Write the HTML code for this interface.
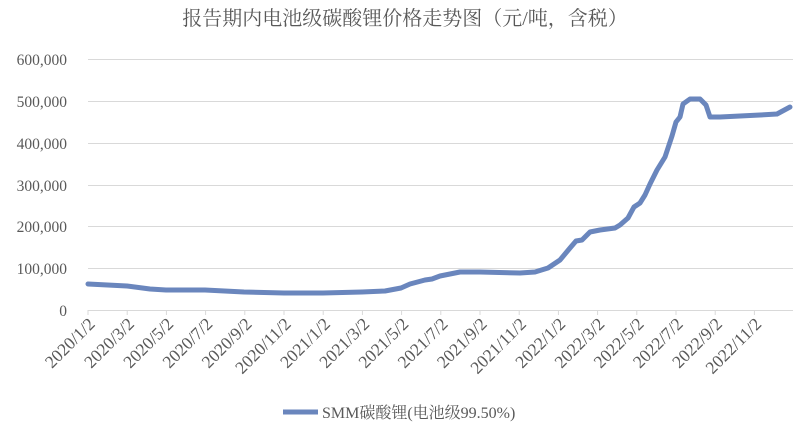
<!DOCTYPE html>
<html><head><meta charset="utf-8"><style>
body{margin:0;background:#fff;}
svg text{font-family:"Liberation Serif","Noto Serif CJK SC",serif;fill:#595959;}
</style></head><body>
<svg width="798" height="433" xmlns="http://www.w3.org/2000/svg">
<text x="405" y="25" font-size="20" text-anchor="middle">报告期内电池级碳酸锂价格走势图（元/吨，含税）</text>
<g stroke="#d9d9d9" stroke-width="1">
<line x1="88" x2="793" y1="59.5" y2="59.5"/>
<line x1="88" x2="793" y1="101.5" y2="101.5"/>
<line x1="88" x2="793" y1="143.5" y2="143.5"/>
<line x1="88" x2="793" y1="185.5" y2="185.5"/>
<line x1="88" x2="793" y1="226.5" y2="226.5"/>
<line x1="88" x2="793" y1="268.5" y2="268.5"/>
<line x1="88" x2="793" y1="310.5" y2="310.5"/>
</g>
<g font-size="15.5" text-anchor="end">
<text x="67" y="65">600,000</text>
<text x="67" y="107">500,000</text>
<text x="67" y="149">400,000</text>
<text x="67" y="191">300,000</text>
<text x="67" y="232">200,000</text>
<text x="67" y="274">100,000</text>
<text x="67" y="316">0</text>
</g>
<g stroke="#d9d9d9" stroke-width="1" id="ticks"></g>
<g font-size="17.5" text-anchor="end" id="labels"></g>
<polyline fill="none" stroke="#6a86bd" stroke-width="5" stroke-linejoin="round" stroke-linecap="round" points="88,284 127,286 150,289 166,290 205,290 244,292 284,293 323,293 362,292 385,291 401,288 410,284 425,280 432,279 440,276 460,272 480,272 520,273 535,272 548,268 560,260 570,248 576,241 582,240 590,232 600,230 615,228 620,225 628,218 634,207 640,203 645,195 650,184 657,170 665,157 672,136 676,122 680,117 683,104 690,99 700,99 706,105 710,117 720,117 740,116 760,115 777,114 790,107"/>
<line x1="283" x2="318" y1="412" y2="412" stroke="#6a86bd" stroke-width="5"/>
<text x="322" y="418" font-size="16">SMM碳酸锂(电池级99.50%)</text>
<script>
var labs=["2020/1/2","2020/3/2","2020/5/2","2020/7/2","2020/9/2","2020/11/2","2021/1/2","2021/3/2","2021/5/2","2021/7/2","2021/9/2","2021/11/2","2022/1/2","2022/3/2","2022/5/2","2022/7/2","2022/9/2","2022/11/2"];
var t=document.getElementById('ticks'),l=document.getElementById('labels'),ns="http://www.w3.org/2000/svg";
labs.forEach(function(s,i){var x=88+i*39.2;
var ln=document.createElementNS(ns,'line');ln.setAttribute('x1',x);ln.setAttribute('x2',x);ln.setAttribute('y1',310);ln.setAttribute('y2',315);t.appendChild(ln);
var tx=document.createElementNS(ns,'text');tx.setAttribute('transform','translate('+(x+8)+',325) rotate(-45)');tx.textContent=s;l.appendChild(tx);});
</script>
</svg>
</body></html>
